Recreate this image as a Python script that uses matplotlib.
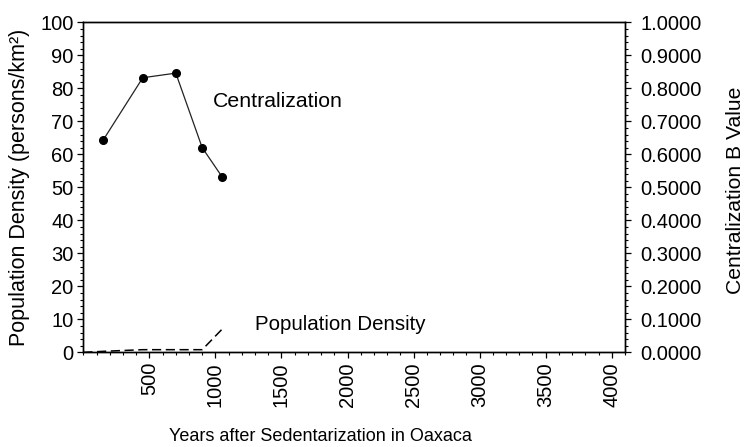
import matplotlib
matplotlib.use("Agg")
import matplotlib.pyplot as plt
from matplotlib.ticker import MultipleLocator, FormatStrFormatter

plt.rcParams['font.family'] = ['Liberation Sans', 'DejaVu Sans']

# Centralization B value by years after sedentarization
cent_years = [150, 450, 700, 900, 1050]
cent_values = [0.643, 0.832, 0.846, 0.620, 0.532]

# Population density (persons/km^2)
dens_years = [0, 150, 450, 700, 900, 1050]
dens_values = [0.0, 0.3, 0.8, 0.8, 0.8, 7.0]

x_ticks = [500, 1000, 1500, 2000, 2500, 3000, 3500, 4000]

fig = plt.figure(figsize=(7.44, 4.47), dpi=100)
ax = fig.add_axes([0.112, 0.2118, 0.728, 0.7383])
ax2 = ax.twinx()

fs = 14.5

ax.plot(dens_years, dens_values, color='black', lw=1.1, ls=(0, (6, 3)))
ax2.plot(cent_years, cent_values, color='#222222', lw=0.9, marker='o',
         markersize=5.5, markerfacecolor='black', markeredgecolor='black')

ax.set_xlim(0, 4100)
ax.set_ylim(0, 100)
ax2.set_ylim(0, 1.0)

ax.set_xticks(x_ticks)
ax.set_xticklabels([str(t) for t in x_ticks], rotation=90, fontsize=fs)
ax.xaxis.set_minor_locator(MultipleLocator(100))
ax.yaxis.set_major_locator(MultipleLocator(10))
ax.yaxis.set_minor_locator(MultipleLocator(2))
ax2.yaxis.set_major_locator(MultipleLocator(0.1))
ax2.yaxis.set_minor_locator(MultipleLocator(0.02))
ax2.yaxis.set_major_formatter(FormatStrFormatter('%.4f'))

for a in (ax, ax2):
    a.tick_params(which='major', direction='out', length=4, width=0.9,
                  labelsize=fs, pad=3)
    a.tick_params(which='minor', direction='out', length=2, width=0.8)
    for s in a.spines.values():
        s.set_linewidth(1.0)
ax2.tick_params(axis='y', which='major', pad=7)

ax.set_ylabel('Population Density (persons/km²)', fontsize=15.5,
              va='center', ha='center')
ax.yaxis.set_label_coords(-0.117, 0.5)

ax.set_xlabel('Years after Sedentarization in Oaxaca', fontsize=13,
              va='center', ha='center')
ax.xaxis.set_label_coords(0.437, -0.2536)

ax2.set_ylabel('Centralization B Value', fontsize=15.2,
               va='center', ha='center')
ax2.yaxis.set_label_coords(1.2037, 0.492)

ax.text(980, 75.9, 'Centralization', fontsize=15.3, va='center', ha='left')
ax.text(1300, 8.3, 'Population Density', fontsize=14.8, va='center', ha='left')

fig.savefig('out.png', dpi=100)
